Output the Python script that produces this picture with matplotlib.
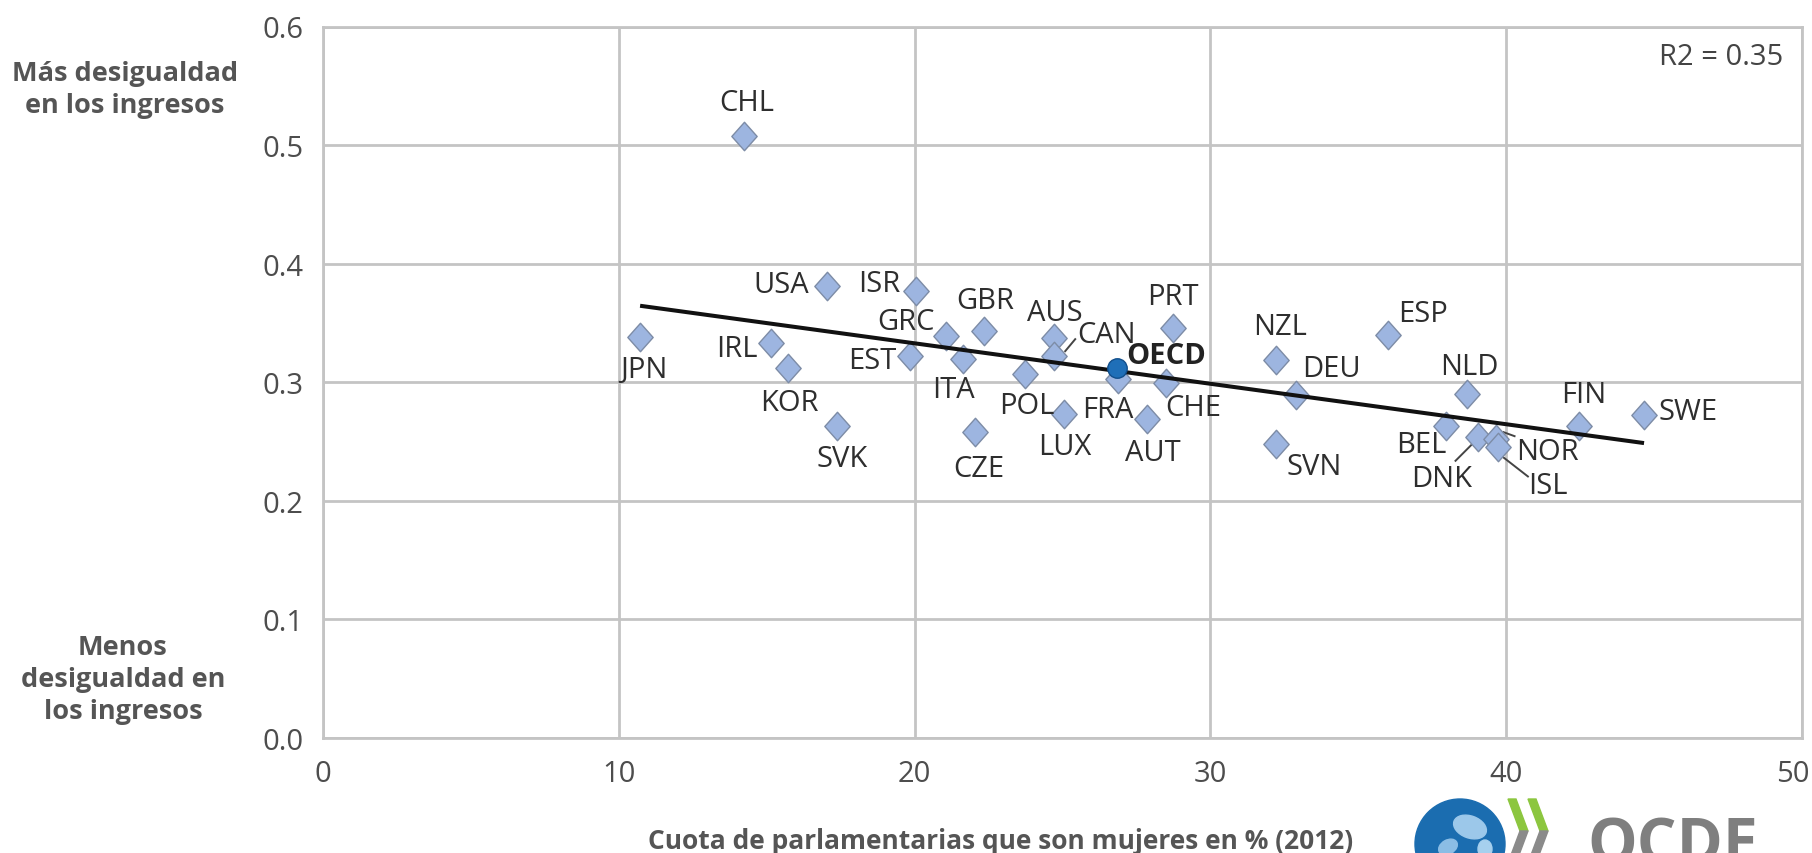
import matplotlib
matplotlib.use("Agg")
import matplotlib.pyplot as plt
import numpy as np
from matplotlib.path import Path
from matplotlib.patches import Circle, Polygon, Ellipse
from matplotlib.transforms import ScaledTranslation

plt.rcParams['font.family'] = ['Open Sans', 'DejaVu Sans']

# ---------------- data ----------------
countries = ["CHL", "JPN", "USA", "ISR", "IRL", "KOR", "SVK", "EST", "GRC", "GBR",
             "ITA", "CZE", "POL", "AUS", "CAN", "LUX", "FRA", "AUT", "CHE", "PRT",
             "NZL", "SVN", "DEU", "ESP", "NLD", "BEL", "DNK", "NOR", "ISL", "FIN", "SWE"]
women_share = [14.22, 10.72, 17.04, 20.05, 15.13, 15.73, 17.39, 19.85, 21.06, 22.36,
               21.63, 22.04, 23.74, 24.72, 24.72, 25.06, 26.87, 27.87, 28.51, 28.74,
               32.22, 32.22, 32.88, 36.0, 38.66, 37.97, 39.03, 39.64, 39.72, 42.46, 44.67]
gini = [0.508, 0.338, 0.381, 0.377, 0.333, 0.312, 0.263, 0.322, 0.339, 0.343,
        0.320, 0.258, 0.307, 0.337, 0.322, 0.273, 0.303, 0.269, 0.299, 0.346,
        0.319, 0.248, 0.289, 0.340, 0.290, 0.263, 0.254, 0.252, 0.245, 0.263, 0.272]
oecd_label = "OECD"
oecd_x = 26.83
oecd_y = 0.312
trend_x = [10.72, 44.66]
trend_y = [0.3645, 0.2487]
r2_text = "R2 = 0.35"
x_ticks = [0, 10, 20, 30, 40, 50]
y_ticks = [0.0, 0.1, 0.2, 0.3, 0.4, 0.5, 0.6]
y_ticklabels = ["0.0", "0.1", "0.2", "0.3", "0.4", "0.5", "0.6"]
xlabel = "Cuota de parlamentarias que son mujeres en % (2012)"
top_note = "Más desigualdad\nen los ingresos"
bottom_note = "Menos\ndesigualdad en\nlos ingresos"

# label offsets (pixels, relative to the point)
label_offsets = {
    "CHL": (3, 33), "JPN": (4, -32), "USA": (-46, 2), "ISR": (-37, 7),
    "IRL": (-34, -5), "KOR": (1, -34), "SVK": (5, -32), "EST": (-38, -4),
    "GRC": (-40, 15), "GBR": (1, 31), "ITA": (-9, -31), "CZE": (4, -36),
    "POL": (2, -32), "AUS": (1, 26), "CAN": (52, 22), "LUX": (1, -32),
    "FRA": (-10, -31), "AUT": (5, -33), "CHE": (27, -24), "PRT": (0, 31),
    "NZL": (4, 33), "SVN": (38, -23), "DEU": (36, 27), "ESP": (35, 21),
    "NLD": (3, 28), "BEL": (-25, -18), "DNK": (-36, -42), "NOR": (52, -12),
    "ISL": (50, -38), "FIN": (5, 32), "SWE": (44, 4),
}
leaders = {
    "CAN": ((11, 5), (21, 17)),
    "DNK": ((-22, -24), (-5, -7)),
    "NOR": ((8, 7), (19, 3)),
    "ISL": ((3, -8), (30, -29)),
}

W, H = 1812, 854
fig = plt.figure(figsize=(W / 100, H / 100), dpi=100)
fig.patch.set_facecolor("white")
ax = fig.add_axes([323 / W, 1 - 739 / H, (1802 - 323) / W, (739 - 27.5) / H])

grid_c = "#c4c4c4"
ax.set_xlim(0, 50)
ax.set_ylim(0, 0.6)
ax.set_xticks(x_ticks)
ax.set_yticks(y_ticks)
ax.set_yticklabels(y_ticklabels)
ax.grid(True, color=grid_c, lw=2.0, zorder=0)
ax.set_axisbelow(True)
for s in ax.spines.values():
    s.set_color(grid_c)
    s.set_linewidth(2.0)
ax.tick_params(length=0, labelsize=21, labelcolor="#4d4d4d")
ax.tick_params(axis="x", pad=15)
ax.tick_params(axis="y", pad=14)
# last x tick label sits slightly inside the right edge
last = ax.get_xticklabels()[-1]
last.set_transform(last.get_transform() + ScaledTranslation(-9 / 100, 0, fig.dpi_scale_trans))

diamond = Path([(0, 1), (0.89, 0), (0, -1), (-0.89, 0), (0, 1)],
               [Path.MOVETO, Path.LINETO, Path.LINETO, Path.LINETO, Path.CLOSEPOLY])
ax.plot(women_share, gini, linestyle="none", marker=diamond, markersize=20.5,
        markerfacecolor="#9db5e0", markeredgecolor="#7d8ca6", markeredgewidth=1.0,
        zorder=3)
ax.plot(trend_x, trend_y, color="#111111", lw=2.9, zorder=4, solid_capstyle="butt")
ax.plot([oecd_x], [oecd_y], linestyle="none", marker="o", markersize=14,
        markerfacecolor="#1f6fb8", markeredgecolor="#124f8c", markeredgewidth=1.0,
        zorder=5)

for c, x, y in zip(countries, women_share, gini):
    dx, dy = label_offsets[c]
    ax.annotate(c, (x, y), xytext=(dx, dy), textcoords="offset pixels",
                ha="center", va="center", fontsize=21, color="#2e2e2e", zorder=6)
ax.annotate(oecd_label, (oecd_x, oecd_y), xytext=(50, 13), textcoords="offset pixels",
            ha="center", va="center", fontsize=21, fontweight="bold",
            color="#222222", zorder=6)

# leader lines
fig.canvas.draw()
for c, (p0, p1) in leaders.items():
    i = countries.index(c)
    px, py = ax.transData.transform((women_share[i], gini[i]))
    ax.plot([px + p0[0], px + p1[0]], [py + p0[1], py + p1[1]], color="#444444",
            lw=1.4, transform=None, zorder=2, clip_on=False)

ax.text(1783, H - 58, r2_text, transform=None, ha="right", va="center",
        fontsize=21, color="#444444")

# outer annotations
fig.text(125 / W, 1 - 90 / H, top_note, ha="center", va="center", fontsize=19.5,
         fontweight="bold", color="#555555", linespacing=1.3)
fig.text(123 / W, 1 - 680 / H, bottom_note, ha="center", va="center", fontsize=19.5,
         fontweight="bold", color="#555555", linespacing=1.3)
fig.text(1001 / W, 1 - 842 / H, xlabel, ha="center", va="center", fontsize=19,
         fontweight="bold", color="#555555")

# logo (decorative)
deco = fig.add_axes([0, 0, 1, 1], zorder=-1)
deco.set_xlim(0, W)
deco.set_ylim(H, 0)
deco.axis("off")
deco.add_patch(Circle((1460, 845), 45, color="#1b6db0"))
deco.add_patch(Ellipse((1470, 828), 34, 22, angle=20, color="#9cc8ea"))
deco.add_patch(Ellipse((1448, 848), 20, 14, angle=-30, color="#8bbde5"))
deco.add_patch(Ellipse((1485, 850), 14, 18, color="#a6d0ee"))
for x0 in (1508, 1528):
    deco.add_patch(Polygon([(x0, 800), (x0 + 8, 800), (x0 + 20, 832), (x0 + 12, 832)],
                           closed=True, color="#8cc63f"))
    deco.add_patch(Polygon([(x0 + 12, 832), (x0 + 20, 832), (x0 + 8, 864), (x0, 864)],
                           closed=True, color="#8a8a8a"))
deco.text(1587, 816, "OCDE", ha="left", va="top", fontsize=45, color="#7f7f7f",
          fontweight="bold")

fig.savefig("out.png", dpi=100)
